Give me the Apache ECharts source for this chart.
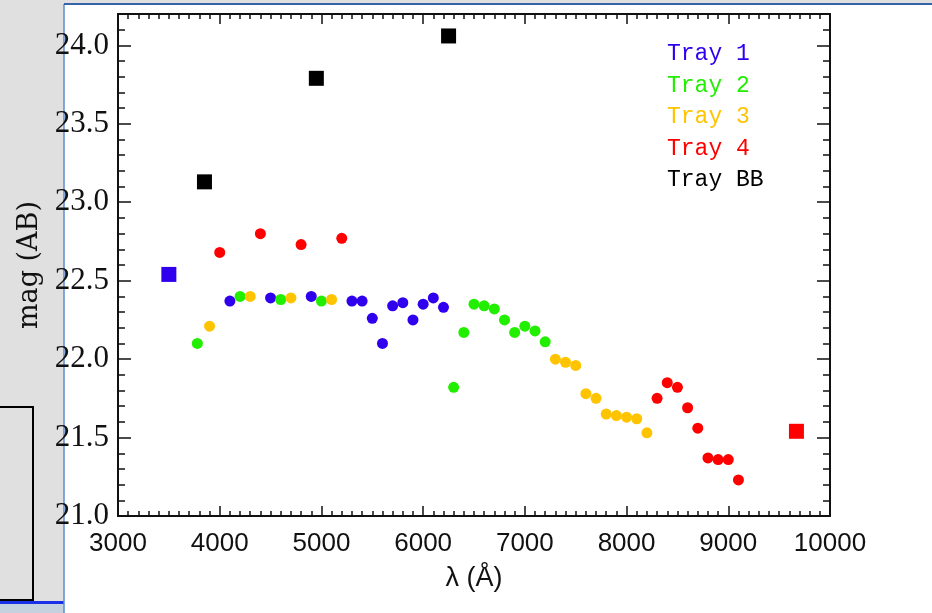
<!DOCTYPE html>
<html>
<head>
<meta charset="utf-8">
<script src="https://cdn.jsdelivr.net/npm/echarts@6/dist/echarts.min.js"></script>
<style>
  html, body { margin: 0; padding: 0; background: #fff; }
  #chart { width: 932px; height: 613px; }
</style>
</head>
<body>
<div id="chart"></div>
<script>
// wavelengths (Å) and AB magnitudes
var tray1Wave = [4100, 4500, 4900, 5300, 5400, 5500, 5600, 5700, 5800, 5900, 6000, 6100, 6200];
var tray1Mag = [22.37, 22.39, 22.40, 22.37, 22.37, 22.26, 22.10, 22.34, 22.36, 22.25, 22.35, 22.39, 22.33];
var tray1Box = [3500, 22.54];

var tray2Wave = [3780, 4200, 4600, 5000, 6300, 6400, 6500, 6600, 6700, 6800, 6900, 7000, 7100, 7200];
var tray2Mag = [22.10, 22.40, 22.38, 22.37, 21.82, 22.17, 22.35, 22.34, 22.32, 22.25, 22.17, 22.21, 22.18, 22.11];

var tray3Wave = [3900, 4300, 4700, 5100, 7300, 7400, 7500, 7600, 7700, 7800, 7900, 8000, 8100, 8200];
var tray3Mag = [22.21, 22.40, 22.39, 22.38, 22.00, 21.98, 21.96, 21.78, 21.75, 21.65, 21.64, 21.63, 21.62, 21.53];

var tray4Wave = [4000, 4400, 4800, 5200, 8300, 8400, 8500, 8600, 8700, 8800, 8900, 9000, 9100];
var tray4Mag = [22.68, 22.80, 22.73, 22.77, 21.75, 21.85, 21.82, 21.69, 21.56, 21.37, 21.36, 21.36, 21.23];
var tray4Box = [9670, 21.54];

var trayBBWave = [3850, 4950, 6250];
var trayBBMag = [23.13, 23.79, 24.06];

var trayNames = ["Tray 1", "Tray 2", "Tray 3", "Tray 4", "Tray BB"];
var trayColors = ["#3000ee", "#22ee00", "#ffc400", "#ff0000", "#000000"];

var xMin = 3000, xMax = 10000;
var yMin = 21, yMax = 24.2;

function points(waves, mags, box) {
  var out = waves.map(function(w, i) {
    return [w, mags[i]];
  });
  if (box) {
    out.unshift({ value: box, symbol: "rect", symbolSize: 15 });
  }
  return out;
}

var axisColor = "#111";

function xAxisOf(pos) {
  return {
    type: "value",
    position: pos,
    min: xMin,
    max: xMax,
    interval: 1000,
    name: pos === "bottom" ? "λ (Å)" : "",
    nameLocation: "middle",
    nameGap: 49,
    nameTextStyle: { fontFamily: "Liberation Sans", fontSize: 27, color: axisColor },
    axisLine: { show: true, onZero: false, lineStyle: { color: axisColor, width: 2 } },
    axisTick: { show: true, inside: true, length: 10, lineStyle: { color: axisColor, width: 1.5 } },
    minorTick: { show: true, splitNumber: 10, length: 5, lineStyle: { color: axisColor, width: 1.5 } },
    axisLabel: {
      show: pos === "bottom",
      margin: 15,
      fontFamily: "Liberation Sans",
      fontSize: 26,
      color: axisColor,
      formatter: function(v) {
        return String(v);
      }
    },
    splitLine: { show: false }
  };
}

// major ticks + labels (0.5) and a second axis for the 0.1 minor ticks
function yAxisOf(pos, minor) {
  return {
    type: "value",
    position: pos,
    min: yMin,
    max: yMax,
    interval: minor ? 0.1 : 0.5,
    name: !minor && pos === "left" ? "mag (AB)" : "",
    nameLocation: "middle",
    nameGap: 74,
    nameTextStyle: { fontFamily: "DejaVu Serif", fontSize: 27, color: axisColor },
    axisLine: { show: !minor, onZero: false, lineStyle: { color: axisColor, width: 2 } },
    axisTick: { show: true, inside: true, length: minor ? 7 : 13, lineStyle: { color: axisColor, width: 1.5 } },
    axisLabel: {
      show: !minor && pos === "left",
      showMaxLabel: false,
      margin: 9,
      fontFamily: "Liberation Serif",
      fontSize: 31,
      color: axisColor,
      formatter: function(v) {
        return v.toFixed(1);
      }
    },
    splitLine: { show: false }
  };
}

var seriesData = [
  points(tray1Wave, tray1Mag, tray1Box),
  points(tray2Wave, tray2Mag),
  points(tray3Wave, tray3Mag),
  points(tray4Wave, tray4Mag, tray4Box),
  trayBBWave.map(function(w, i) {
    return [w, trayBBMag[i]];
  })
];

var option = {
  animation: false,
  backgroundColor: "#ffffff",
  grid: { left: 118, top: 14, right: 102, bottom: 97 },
  graphic: {
    elements: [
      { type: "rect", z: -10, shape: { x: 0, y: 0, width: 64, height: 613 }, style: { fill: "#e0e0e0" } },
      { type: "rect", z: -10, shape: { x: 0, y: 0, width: 932, height: 3 }, style: { fill: "#e0e0e0" } },
      { type: "rect", z: -10, shape: { x: 0, y: 604, width: 64, height: 9 }, style: { fill: "#c6d1df" } },
      { type: "rect", z: -9, shape: { x: -4, y: 407, width: 37, height: 193 }, style: { fill: "none", stroke: "#000", lineWidth: 2 } },
      { type: "line", z: -9, shape: { x1: 0, y1: 602.5, x2: 64, y2: 602.5 }, style: { stroke: "#1a30e6", lineWidth: 3 } },
      { type: "line", z: -9, shape: { x1: 64, y1: 4, x2: 64, y2: 613 }, style: { stroke: "#5b8cd0", lineWidth: 1.5 } },
      { type: "line", z: -9, shape: { x1: 64, y1: 4, x2: 932, y2: 4 }, style: { stroke: "#3564aa", lineWidth: 2 } }
    ]
  },
  legend: {
    orient: "vertical",
    left: 657,
    top: 37,
    icon: "none",
    itemWidth: 0,
    itemHeight: 24,
    itemGap: 7.5,
    selectedMode: false,
    textStyle: { fontFamily: "Liberation Mono", fontSize: 23, lineHeight: 24 },
    data: trayNames.map(function(name, i) {
      return { name: name, textStyle: { color: trayColors[i] } };
    })
  },
  xAxis: [xAxisOf("bottom"), xAxisOf("top")],
  yAxis: [yAxisOf("left", false), yAxisOf("left", true), yAxisOf("right", false), yAxisOf("right", true)],
  series: trayNames.map(function(name, i) {
    return {
      name: name,
      type: "scatter",
      xAxisIndex: 0,
      yAxisIndex: 0,
      symbol: i === 4 ? "rect" : "circle",
      symbolSize: i === 4 ? 15 : 11,
      itemStyle: { color: trayColors[i], opacity: 1 },
      data: seriesData[i]
    };
  })
};

var chart = echarts.init(document.getElementById("chart"));
chart.setOption(option);
</script>
</body>
</html>
